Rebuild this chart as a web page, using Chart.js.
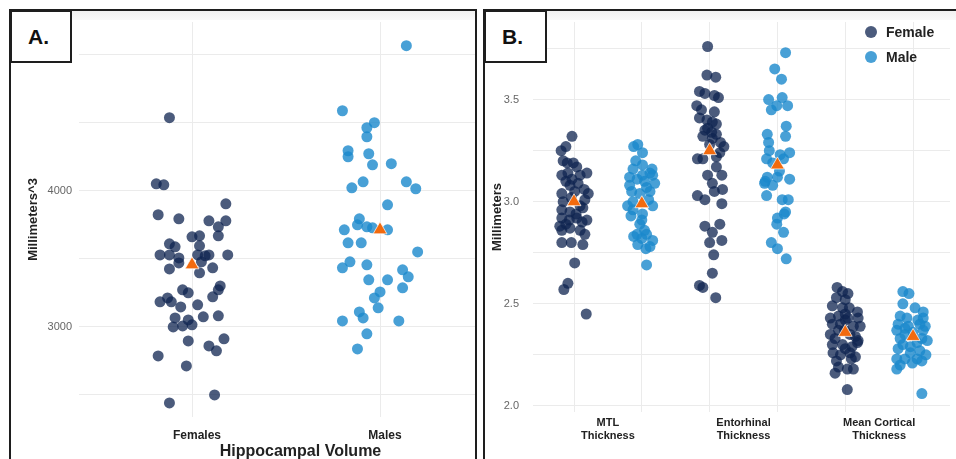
<!DOCTYPE html>
<html>
<head>
<meta charset="utf-8">
<script src="https://cdn.jsdelivr.net/npm/chart.js@4/dist/chart.umd.min.js"></script>
<style>
    html, body { margin: 0; padding: 0; background: #fff; width: 956px; height: 459px; overflow: hidden; }
    body { position: relative; font-family: 'Liberation Sans', Arial, sans-serif; }
    .panel { position: absolute; border: 2px solid #1e1e1e; overflow: hidden; background: #fff; }
    .panel canvas { position: absolute; left: 0; top: 0; }
    .band { position: absolute; left: 0; right: 0; top: 0; height: 9px; background: linear-gradient(#f1f1f1, #fafafa); }
    .tag { position: absolute; border: 2px solid #1e1e1e; background: #fff; font-weight: bold; font-size: 21px; color: #111; box-sizing: border-box; padding: 13px 0 0 16px; }
    .legend { position: absolute; font-size: 14px; font-weight: bold; color: #222; }
    .legend div { position: relative; height: 25px; line-height: 25px; padding-left: 21px; }
    .legend span { position: absolute; left: 0; top: 6px; width: 12px; height: 12px; border-radius: 50%; }
</style>
</head>
<body>
<div class="panel" id="panelA" style="left:9px; top:9px; width:464px; height:470px;">
    <div class="band"></div>
    <canvas id="chartA"></canvas>
</div>
<div class="panel" id="panelB" style="left:483px; top:9px; width:490px; height:470px;">
    <div class="band"></div>
    <canvas id="chartB"></canvas>
</div>
<div class="tag" style="left:10px; top:10px; width:62px; height:53px;">A.</div>
<div class="tag" style="left:484px; top:10px; width:63px; height:53px;">B.</div>
<div class="legend" style="left:865px; top:20px;">
    <div><span style="background:rgba(15,36,80,0.75)"></span>Female</div>
    <div><span style="background:rgba(26,136,204,0.8)"></span>Male</div>
</div>

<script>
// ---- Panel A: hippocampal volume (mm^3) ----
const groupsA = ['Females', 'Males'];
const femaleVolume = [4537, 4051, 4044, 3904, 3824, 3794, 3779, 3779, 3735, 3662, 3669, 3669, 3610, 3588, 3596,
    3529, 3529, 3507, 3529, 3522, 3529, 3529, 3470, 3426, 3397, 3434, 3478, 3301, 3272, 3272, 3250, 3221, 3213,
    3184, 3184, 3147, 3162, 3066, 3051, 3074, 3081, 3000, 3007, 3015, 2897, 2912, 2860, 2824, 2787, 2713, 2500, 2441];
const femaleVolumeJitter = [-0.12, -0.19, -0.15, 0.18, -0.18, -0.07, 0.09, 0.18, 0.14, 0, 0.04, 0.14, -0.12, -0.09, 0.04,
    -0.17, -0.12, -0.07, 0.03, 0.07, 0.09, 0.19, -0.07, -0.12, 0.04, 0.11, 0.05, 0.15, 0.14, -0.05, -0.02, 0.11, -0.13,
    -0.17, -0.11, -0.06, 0.03, -0.09, -0.02, 0.06, 0.14, -0.1, -0.05, 0, -0.02, 0.17, 0.09, 0.13, -0.18, -0.03, 0.12, -0.12];
const maleVolume = [5066, 4588, 4463, 4500, 4397, 4294, 4250, 4272, 4191, 4199, 4066, 4022, 4066, 4015, 3897, 3794,
    3750, 3735, 3728, 3713, 3713, 3618, 3618, 3551, 3478, 3434, 3456, 3419, 3368, 3346, 3346, 3287, 3257, 3213, 3140,
    3110, 3066, 3044, 3044, 2949, 2838];
const maleVolumeJitter = [0.14, -0.2, -0.07, -0.03, -0.07, -0.17, -0.17, -0.06, -0.04, 0.06, -0.09, -0.15, 0.14, 0.19, 0.04, -0.11,
    -0.12, -0.07, -0.04, 0.04, -0.19, -0.17, -0.1, 0.2, -0.16, -0.2, -0.07, 0.12, 0.15, -0.06, 0.04, 0.12, 0, -0.03, -0.01,
    -0.11, -0.09, -0.2, 0.1, -0.07, -0.12];
const meanVolume = [3456, 3713];
const yGridA = [2500, 3000, 3500, 4000, 4500, 5000];
const yLabelsA = [3000, 4000, 5000];

// ---- Panel B: cortical thickness (mm) ----
const measuresB = [['MTL', 'Thickness'], ['Entorhinal', 'Thickness'], ['Mean Cortical', 'Thickness']];
const mtlFemale = [3.32, 3.27, 3.25, 3.20, 3.19, 3.19, 3.17, 3.13, 3.14, 3.13, 3.14, 3.09, 3.06, 3.08, 3.04, 3.00, 3.01,
    3.02, 2.96, 2.95, 2.97, 2.92, 2.91, 2.92, 2.90, 2.91, 2.86, 2.87, 2.86, 2.84, 2.80, 2.80, 2.79, 2.70, 2.60, 2.57,
    2.45, 3.10, 3.05, 2.98, 2.89, 2.94, 3.11, 3.04, 2.88];
const mtlFemaleJitter = [-0.03, -0.12, -0.19, -0.16, -0.1, -0.01, 0.04, -0.18, -0.09, 0.09, 0.19, 0.06, 0.15, -0.06, -0.18,
    -0.16, 0.16, -0.04, -0.18, -0.06, 0.13, -0.18, -0.07, 0.04, 0.12, 0.19, -0.18, -0.06, 0.09, 0.16, -0.18, -0.04, 0.13,
    0.01, -0.09, -0.15, 0.18, -0.12, 0.01, 0.09, -0.12, 0.03, -0.03, 0.21, -0.21];
const mtlMale = [3.27, 3.28, 3.24, 3.16, 3.18, 3.14, 3.12, 3.11, 3.13, 3.13, 3.08, 3.07, 3.09, 3.05, 3.05, 3.04, 2.98,
    2.96, 2.98, 2.94, 2.91, 2.89, 2.84, 2.84, 2.81, 2.82, 2.79, 2.78, 2.77, 2.69, 2.83, 3.10, 3.20, 3.01, 2.93, 2.86,
    3.16, 3.00];
const mtlMaleJitter = [-0.12, -0.06, 0.01, -0.13, 0.01, 0.12, -0.18, -0.07, 0.01, 0.16, -0.18, 0.07, 0.19, -0.15, 0.12,
    -0.03, -0.21, -0.13, 0.16, 0.01, 0, -0.03, -0.07, 0.07, 0.16, 0, -0.06, 0.12, 0.06, 0.07, -0.12, 0.04, -0.09, 0.1,
    -0.16, 0.04, 0.15, -0.13];
const entFemale = [3.76, 3.62, 3.61, 3.54, 3.53, 3.52, 3.51, 3.47, 3.45, 3.44, 3.41, 3.40, 3.39, 3.38, 3.35, 3.34, 3.33,
    3.32, 3.31, 3.29, 3.27, 3.21, 3.21, 3.22, 3.17, 3.13, 3.13, 3.09, 3.06, 3.05, 2.99, 3.03, 3.01, 2.88, 2.89, 2.85,
    2.80, 2.81, 2.74, 2.65, 2.59, 2.58, 2.53, 3.28, 3.24, 3.36];
const entFemaleJitter = [-0.03, -0.04, 0.09, -0.15, -0.07, 0.07, 0.13, -0.19, -0.12, 0.07, -0.15, -0.04, 0.04, 0.1, -0.07,
    0.03, 0.1, -0.1, 0.04, 0.16, 0.21, -0.18, -0.1, 0.1, 0.1, -0.03, 0.18, 0.04, 0.19, 0.07, 0.18, -0.18, -0.07, -0.07,
    0.15, 0.04, 0, 0.18, 0.06, 0.04, -0.15, -0.1, 0.09, 0, 0.15, -0.03];
const entMale = [3.73, 3.65, 3.60, 3.50, 3.51, 3.47, 3.45, 3.47, 3.37, 3.32, 3.33, 3.29, 3.25, 3.21, 3.24, 3.21, 3.23,
    3.12, 3.09, 3.08, 3.12, 3.11, 3.03, 3.01, 2.94, 2.92, 2.89, 2.85, 2.80, 2.77, 2.72, 3.01, 3.19, 3.15, 3.10, 2.95];
const entMaleJitter = [0.12, -0.04, 0.06, -0.13, 0.07, 0.15, -0.09, -0.01, 0.13, 0.12, -0.15, -0.13, -0.12, -0.16, 0.18,
    0.09, 0.04, -0.15, -0.19, -0.07, 0, 0.18, -0.16, 0.07, 0.1, 0, -0.01, 0.09, -0.09, 0, 0.13, 0.16, -0.07, 0.03, -0.18, 0.12];
const mctFemale = [2.58, 2.56, 2.55, 2.53, 2.52, 2.49, 2.48, 2.48, 2.46, 2.43, 2.44, 2.43, 2.43, 2.40, 2.40, 2.39, 2.39,
    2.35, 2.33, 2.34, 2.32, 2.30, 2.30, 2.29, 2.31, 2.26, 2.25, 2.26, 2.24, 2.22, 2.23, 2.16, 2.18, 2.18, 2.08, 2.37,
    2.37, 2.35, 2.45, 2.28, 2.19, 2.42];
const mctFemaleJitter = [-0.12, -0.04, 0.04, -0.13, 0, -0.19, -0.04, 0.06, 0.18, -0.22, -0.1, 0.04, 0.19, -0.19, -0.07,
    0.12, 0.22, -0.22, -0.15, 0.15, 0.19, -0.19, -0.04, 0.1, 0.18, -0.18, -0.07, 0.07, 0.15, -0.13, 0.09, -0.15, 0.03,
    0.12, 0.03, -0.01, -0.1, 0.07, 0, 0, -0.1, 0];
const mctMale = [2.56, 2.55, 2.50, 2.48, 2.46, 2.44, 2.43, 2.43, 2.40, 2.39, 2.40, 2.39, 2.37, 2.38, 2.37, 2.33, 2.33,
    2.32, 2.28, 2.29, 2.27, 2.23, 2.23, 2.23, 2.22, 2.20, 2.21, 2.18, 2.06, 2.36, 2.31, 2.35, 2.26, 2.30, 2.42, 2.25];
const mctMaleJitter = [-0.15, -0.06, -0.15, 0.03, 0.15, -0.19, -0.09, 0.15, -0.22, -0.07, 0.1, 0.18, -0.24, -0.12, 0.15,
    -0.19, 0.13, 0.21, -0.22, -0.04, 0.1, -0.24, -0.12, 0.06, 0.13, -0.19, -0.01, -0.24, 0.13, 0, 0.06, -0.12, -0.04,
    -0.15, 0.07, 0.19];
// order: MTL F, MTL M, Entorhinal F, Entorhinal M, Mean Cortical F, Mean Cortical M
const meanThickness = [3.00, 2.99, 3.25, 3.18, 2.36, 2.34];
const yGridB = [2.0, 2.25, 2.5, 2.75, 3.0, 3.25, 3.5, 3.75];
const yLabelsB = [2.0, 2.5, 3.0, 3.5];

const femaleColor = 'rgba(15, 36, 80, 0.75)';
const maleColor = 'rgba(26, 136, 204, 0.8)';
const meanColor = '#f26a0e';
const gridColor = '#ebebeb';
const fontFamily = "'Liberation Sans', Arial, sans-serif";

const toPoints = (pos, jitter, values) => values.map((v, i) => ({ x: pos + jitter[i], y: v }));

const pointSet = (label, data, color) => ({
    label, data,
    backgroundColor: color,
    borderWidth: 0,
    pointRadius: 5.5,
    order: 2
});
const meanSet = (data) => ({
    label: 'Mean', data,
    pointStyle: 'triangle',
    pointRadius: 8,
    backgroundColor: meanColor,
    borderColor: 'rgba(255,255,255,0.7)',
    borderWidth: 1,
    order: 1
});

// fixed axis sizes, and no extra label padding so the plot area lands where we want it
const fixSize = (w, h) => (s) => {
    if (w !== null) s.width = w;
    if (h !== null) s.height = h;
    s.paddingTop = s.paddingBottom = s.paddingLeft = s.paddingRight = 0;
};

function setup(canvasId, w, h) {
    const canvas = document.getElementById(canvasId);
    canvas.style.width = w + 'px';
    canvas.style.height = h + 'px';
    canvas.width = w;
    canvas.height = h;
    return canvas.getContext('2d');
}

Chart.defaults.font.family = fontFamily;
Chart.defaults.animation = false;

// Panel A chart
new Chart(setup('chartA', 520, 450), {
    type: 'scatter',
    data: {
        datasets: [
            meanSet(meanVolume.map((v, i) => ({ x: i + 1, y: v }))),
            pointSet('Females', toPoints(1, femaleVolumeJitter, femaleVolume), femaleColor),
            pointSet('Males', toPoints(2, maleVolumeJitter, maleVolume), maleColor)
        ]
    },
    options: {
        responsive: false,
        layout: { padding: { top: 11, right: 4 } },
        plugins: { legend: { display: false }, tooltip: { enabled: false } },
        scales: {
            x: {
                type: 'linear', min: 0.399, max: 2.755,
                afterBuildTicks: (s) => { s.ticks = groupsA.map((g, i) => ({ value: i + 1 })); },
                afterFit: fixSize(null, 44),
                grid: { color: gridColor, drawTicks: false },
                border: { display: false },
                ticks: {
                    padding: 11, labelOffset: 5, autoSkip: false, maxRotation: 0,
                    color: '#222', font: { size: 12, weight: 'bold' },
                    callback: (v) => groupsA[v - 1]
                },
                title: { display: true, text: 'Hippocampal Volume', color: '#222', padding: 0, font: { size: 16, weight: 'bold' } }
            },
            y: {
                min: 2338, max: 5240,
                afterBuildTicks: (s) => { s.ticks = yGridA.map(v => ({ value: v })); },
                afterFit: fixSize(68, null),
                grid: { color: gridColor, drawTicks: false },
                border: { display: false },
                ticks: {
                    padding: 7, color: '#666', font: { size: 11 },
                    callback: (v) => yLabelsA.includes(v) ? String(v) : ''
                },
                title: { display: true, text: 'Millimeters^3', color: '#222', padding: { top: 15, bottom: 0 }, font: { size: 13, weight: 'bold' } }
            }
        }
    }
});

// Panel B chart
const xTicksB = [1, 1.5, 2, 3, 3.5, 4, 5, 5.5, 6];
new Chart(setup('chartB', 474, 450), {
    type: 'scatter',
    data: {
        datasets: [
            meanSet(meanThickness.map((v, i) => ({ x: i + 1, y: v }))),
            pointSet('Female', [
                ...toPoints(1, mtlFemaleJitter, mtlFemale),
                ...toPoints(3, entFemaleJitter, entFemale),
                ...toPoints(5, mctFemaleJitter, mctFemale)
            ], femaleColor),
            pointSet('Male', [
                ...toPoints(2, mtlMaleJitter, mtlMale),
                ...toPoints(4, entMaleJitter, entMale),
                ...toPoints(6, mctMaleJitter, mctMale)
            ], maleColor)
        ]
    },
    options: {
        responsive: false,
        layout: { padding: { top: 11, right: 5 } },
        plugins: { legend: { display: false }, tooltip: { enabled: false } },
        scales: {
            x: {
                type: 'linear', min: 0.395, max: 6.545,
                afterBuildTicks: (s) => { s.ticks = xTicksB.map(v => ({ value: v })); },
                afterFit: fixSize(null, 49),
                grid: {
                    drawTicks: false,
                    color: (c) => (c.tick && c.tick.value % 1 !== 0) ? 'rgba(0,0,0,0)' : gridColor
                },
                border: { display: false },
                ticks: {
                    padding: 4, autoSkip: false, maxRotation: 0,
                    color: '#222', font: { size: 11, weight: 'bold' },
                    callback: (v) => v % 1 !== 0 ? measuresB[(v - 1.5) / 2] : ''
                }
            },
            y: {
                min: 1.97, max: 3.88,
                afterBuildTicks: (s) => { s.ticks = yGridB.map(v => ({ value: v })); },
                afterFit: fixSize(48, null),
                grid: { color: gridColor, drawTicks: false },
                border: { display: false },
                ticks: {
                    padding: 14, color: '#666', font: { size: 11 },
                    callback: (v) => yLabelsB.includes(v) ? v.toFixed(1) : ''
                },
                title: { display: true, text: 'Millimeters', color: '#222', padding: { top: 5, bottom: 0 }, font: { size: 13, weight: 'bold' } }
            }
        }
    }
});
</script>
</body>
</html>
